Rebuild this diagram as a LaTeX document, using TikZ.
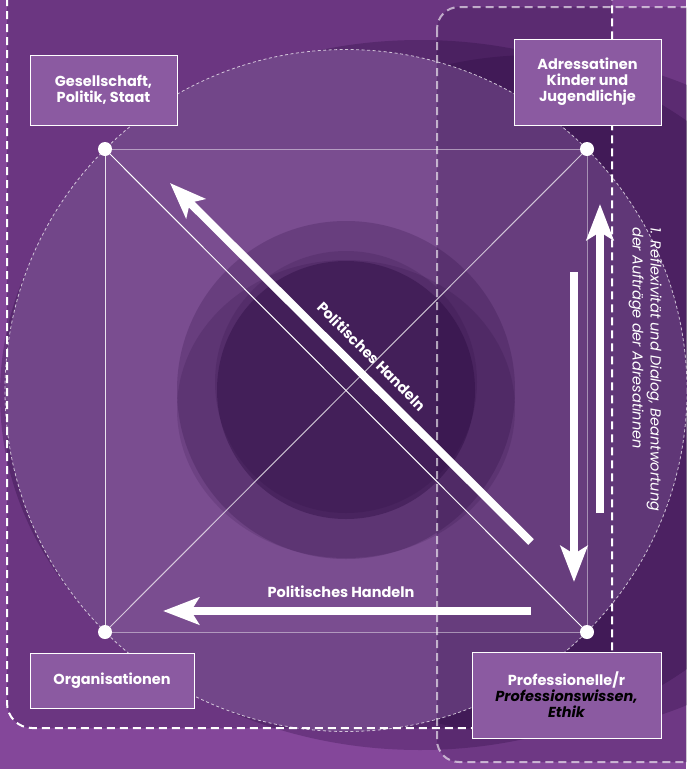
\documentclass[tikz,border=0pt]{standalone}
\usepackage{fontspec}
\setmainfont{Poppins}
\usetikzlibrary{arrows.meta}
\definecolor{bgpurple}{HTML}{84479A}
\definecolor{circfill}{HTML}{724689}
\definecolor{sqfill}{HTML}{7A4D90}
\definecolor{boxfill}{HTML}{8B5AA1}
\definecolor{shadecol}{HTML}{24063A}
\tikzset{
  lbl/.style={font=\bfseries\fontsize{14.5}{16}\selectfont, text=white, align=center},
  catbox/.style={draw=white, line width=1pt, fill=boxfill, lbl, inner sep=0pt},
  dot/.style={circle, fill=white, minimum size=14pt, inner sep=0pt},
  bigarrow/.style={white, line width=8pt, -{Stealth[length=36pt,width=27pt,inset=8pt]}},
  edge/.style={white, line width=1pt},
  faintedge/.style={white, opacity=0.45, line width=1pt},
  shade/.style={fill=shadecol},
  leftdash/.style={white, line width=2pt, dash pattern=on 8pt off 5pt},
  rightdash/.style={white, opacity=0.6, line width=2pt, dash pattern=on 8pt off 5pt},
  circdash/.style={white, opacity=0.7, line width=0.8pt, dash pattern=on 3pt off 2.5pt},
}
\begin{document}
\begin{tikzpicture}[x=1pt,y=-1pt]
\useasboundingbox (0,0) rectangle (686,769);
% background layers
\fill[bgpurple] (0,0) rectangle (686,769);
\fill[shade, opacity=0.25, rounded corners=25pt] (7,-40) rectangle (612,728);
\fill[shade, opacity=0.27] (420,395) ellipse [x radius=420pt, y radius=355pt];
\fill[shade, opacity=0.25] (535,395) ellipse [x radius=370pt, y radius=340pt];
\fill[circfill] (346,390.5) circle [radius=341pt];
\fill[sqfill] (105,149) rectangle (587,632);
% central blobs
\fill[shade, opacity=0.2] (346,390) circle [radius=169pt];
\fill[shade, opacity=0.15] (346,409) ellipse [x radius=169pt, y radius=149pt];
\fill[shade, opacity=0.15] (346,382) circle [radius=131pt];
\fill[shade, opacity=0.35] (346,390) circle [radius=129pt];
% right region overlay
\fill[shade, opacity=0.22, rounded corners=22pt] (437,7) rectangle (730,762);
% dashed outlines
\draw[circdash] (346,390.5) circle [radius=341pt];
\draw[leftdash, rounded corners=25pt] (7,-40) rectangle (612,728);
\draw[rightdash, rounded corners=22pt] (437,7) rectangle (730,762);
% corner dots
\node[dot] (TL) at (105,149) {};
\node[dot] (TR) at (587,149) {};
\node[dot] (BL) at (105,632) {};
\node[dot] (BR) at (587,632) {};
\draw[faintedge] (TL) -- (TR);
\draw[edge, opacity=0.85] (TL) -- (BL);
\draw[faintedge] (TR) -- (BR);
\draw[faintedge] (BL) -- (BR);
\draw[edge] (TL) -- (BR);
\draw[edge, opacity=0.7] (TR) -- (BL);
% arrows
\coordinate (d1s) at (531,542);
\coordinate (d1e) at (170,183);
\draw[bigarrow] (d1s) -- (d1e);
\coordinate (h1s) at (531,611);
\coordinate (h1e) at (163,611);
\draw[bigarrow] (h1s) -- (h1e);
\coordinate (u1s) at (600,513);
\coordinate (u1e) at (600,204);
\draw[bigarrow] (u1s) -- (u1e);
\coordinate (v1s) at (574,272);
\coordinate (v1e) at (574,582);
\draw[bigarrow] (v1s) -- (v1e);
% labels
\node[lbl, rotate=-45] (diaglbl) at (372,356) {Politisches Handeln};
\node[lbl] (horlbl) at (341,592) {Politisches Handeln};
\node[rotate=-90, anchor=north west, align=left, text=white, inner sep=0pt,
      font=\itshape\fontsize{14.5}{18}\selectfont] (reflbl) at (662,227)
  {1. Reflexivität und Dialog, Beantwortung\\der Aufträge der Adresatinnen};
% boxes
\node[catbox, minimum width=147pt, minimum height=70pt] (ges) at (103.5,90)
  {Gesellschaft,\\Politik, Staat};
\node[catbox, minimum width=147pt, minimum height=86pt] (adr) at (587.5,82)
  {Adressatinen\\Kinder und\\Jugendlichje};
\node[catbox, minimum width=164pt, minimum height=55pt] (org) at (112,680.5)
  {Organisationen};
\node[catbox, minimum width=189pt, minimum height=86pt] (pro) at (566.5,695)
  {Professionelle/r\\{\color{black}\bfseries\itshape Professionswissen,}\\{\color{black}\bfseries\itshape Ethik}};
\end{tikzpicture}
\end{document}
